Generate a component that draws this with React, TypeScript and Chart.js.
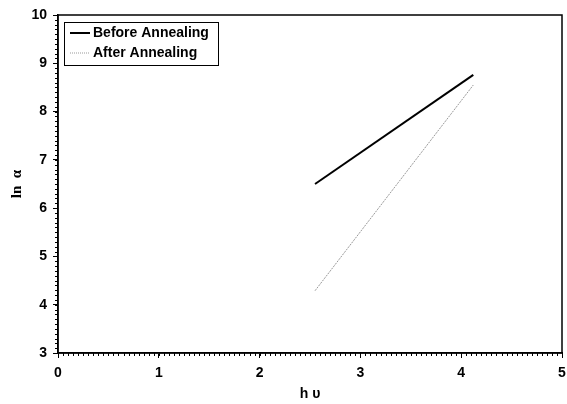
import React, { useEffect, useRef } from "react";
import { Chart, registerables } from "chart.js";

Chart.register(...registerables);

const seriesNames = ["Before Annealing", "After Annealing"];
const beforeX = [2.55, 4.12];
const beforeY = [6.5, 8.76];
const afterX = [2.55, 4.12];
const afterY = [4.29, 8.55];
const xTicks = [0, 1, 2, 3, 4, 5];
const yTicks = [3, 4, 5, 6, 7, 8, 9, 10];

const FONT = "'Liberation Sans', Arial, sans-serif";
const SERIF = "'Liberation Serif', 'Times New Roman', serif";

const framePlugin = {
  id: "frameMinor",
  afterDraw(chart: any) {
    const { ctx, chartArea } = chart;
    const xs = chart.scales.x;
    const ys = chart.scales.y;
    ctx.save();
    ctx.strokeStyle = "#000";
    ctx.lineWidth = 1;
    for (let i = 0; i <= 100; i++) {
      const v = i * 0.05;
      const px = Math.round(xs.getPixelForValue(v)) + 0.5;
      ctx.beginPath();
      ctx.moveTo(px, chartArea.bottom);
      ctx.lineTo(px, chartArea.bottom + 3);
      ctx.stroke();
    }
    for (let i = 0; i <= 70; i++) {
      const v = 3 + i * 0.1;
      const py = Math.round(ys.getPixelForValue(v)) + 0.5;
      ctx.beginPath();
      ctx.moveTo(chartArea.left - 3, py);
      ctx.lineTo(chartArea.left, py);
      ctx.stroke();
    }
    ctx.lineWidth = 1.5;
    ctx.strokeRect(chartArea.left, chartArea.top, chartArea.right - chartArea.left, chartArea.bottom - chartArea.top);
    // legend
    const lx = chartArea.left + 6;
    const ly = chartArea.top + 7;
    const lw = 154;
    const lh = 43;
    ctx.fillStyle = "#fff";
    ctx.fillRect(lx, ly, lw, lh);
    ctx.lineWidth = 1;
    ctx.strokeStyle = "#000";
    ctx.strokeRect(lx + 0.5, ly + 0.5, lw, lh);
    ctx.font = `bold 14px ${FONT}`;
    ctx.textBaseline = "middle";
    ctx.fillStyle = "#000";
    ctx.lineWidth = 2;
    ctx.beginPath();
    ctx.moveTo(lx + 6, ly + 11);
    ctx.lineTo(lx + 26, ly + 11);
    ctx.stroke();
    ctx.fillText(seriesNames[0], lx + 29, ly + 11);
    ctx.lineWidth = 1;
    ctx.strokeStyle = "#999";
    ctx.setLineDash([1, 1]);
    ctx.beginPath();
    ctx.moveTo(lx + 6, ly + 31);
    ctx.lineTo(lx + 26, ly + 31);
    ctx.stroke();
    ctx.setLineDash([]);
    ctx.fillText(seriesNames[1], lx + 29, ly + 31);
    ctx.restore();
  },
};

export default function App() {
  const ref = useRef<HTMLCanvasElement>(null);
  useEffect(() => {
    document.body.style.margin = "0";
    const canvas = ref.current!;
    const chart = new Chart(canvas, {
      type: "scatter",
      data: {
        datasets: [
          {
            label: seriesNames[0],
            data: beforeX.map((x, i) => ({ x, y: beforeY[i] })),
            showLine: true,
            borderColor: "#000",
            borderWidth: 2,
            pointRadius: 0,
          },
          {
            label: seriesNames[1],
            data: afterX.map((x, i) => ({ x, y: afterY[i] })),
            showLine: true,
            borderColor: "#999",
            borderWidth: 1,
            borderDash: [2, 1],
            pointRadius: 0,
          },
        ],
      },
      options: {
        responsive: false,
        animation: false,
        layout: { padding: { left: 0, right: 0, top: 15, bottom: 0 } },
        plugins: { legend: { display: false }, tooltip: { enabled: false } },
        scales: {
          x: {
            type: "linear",
            min: 0,
            max: 5,
            afterBuildTicks: (s: any) => {
              s.ticks = xTicks.map((v) => ({ value: v }));
            },
            afterFit: (s: any) => {
              s.height = 51;
              s.paddingRight = 5;
              s.paddingLeft = 0;
            },
            ticks: { color: "#000", font: { family: FONT, size: 14, weight: "bold" }, padding: 7, maxRotation: 0 },
            grid: { display: true, drawOnChartArea: false, drawTicks: true, tickLength: 5, color: "#000" },
            border: { display: true, color: "#000", width: 1.5 },
            title: { display: true, text: "h υ", color: "#000", font: { family: FONT, size: 14, weight: "bold" }, padding: { top: 2, bottom: 1 } },
          },
          y: {
            type: "linear",
            min: 3,
            max: 10,
            afterBuildTicks: (s: any) => {
              s.ticks = yTicks.map((v) => ({ value: v }));
            },
            afterFit: (s: any) => {
              s.width = 58;
            },
            ticks: { color: "#000", font: { family: FONT, size: 14, weight: "bold" }, padding: 6 },
            grid: { display: true, drawOnChartArea: false, drawTicks: true, tickLength: 5, color: "#000" },
            border: { display: true, color: "#000", width: 1.5 },
            title: { display: true, text: "ln  α", color: "#000", font: { family: SERIF, size: 15, weight: "bold" }, padding: { top: 8, bottom: 0 } },
          },
        },
      },
      plugins: [framePlugin],
    });
    return () => chart.destroy();
  }, []);
  return <canvas ref={ref} width={567} height={404} style={{ display: "block" }} />;
}
